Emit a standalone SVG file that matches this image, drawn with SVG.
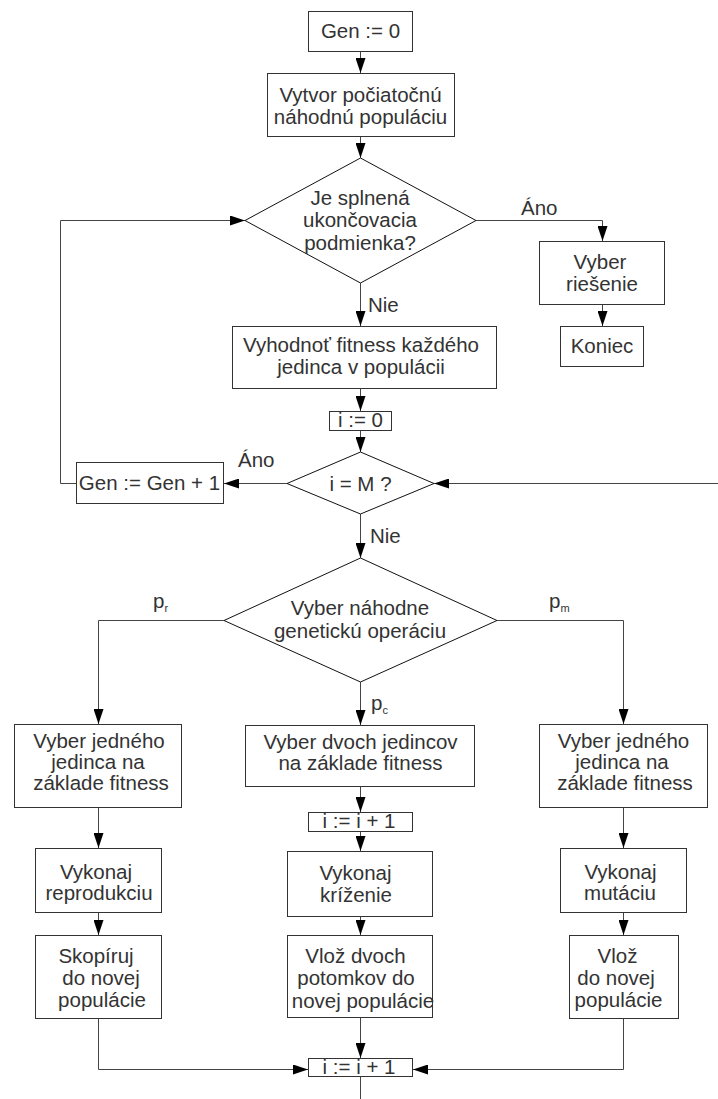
<svg xmlns="http://www.w3.org/2000/svg" width="718" height="1099" viewBox="0 0 718 1099">
  <style>
    .box { fill: #fff; stroke: #333; stroke-width: 1; }
    .dia { fill: #fff; stroke: #111; stroke-width: 1; }
    .t { font-family: "Liberation Sans", Arial, sans-serif; font-size: 20.5px; fill: #333; text-anchor: middle; }
    .lbl { font-family: "Liberation Sans", Arial, sans-serif; font-size: 20.5px; fill: #333; }
    .sub { font-size: 11px; }
    .con { fill: none; stroke: #444; stroke-width: 1; }
    .arr { marker-end: url(#head); }
  </style>
  <defs>
    <marker id="head" viewBox="0 0 15 10" refX="15" refY="5" markerWidth="15" markerHeight="10" markerUnits="userSpaceOnUse" orient="auto">
      <path d="M0,0 L15,5 L0,10 z" fill="#000"/>
    </marker>
  </defs>
  <rect width="718" height="1099" fill="#fff"/>

  <!-- connectors -->
  <g id="connectors">
    <path class="con arr" d="M360.5,52 V73"/>
    <path class="con arr" d="M360.5,137 V158"/>
    <path class="con arr" d="M476,220.5 H602.5 V241"/>
    <path class="con arr" d="M602.5,305 V326"/>
    <path class="con arr" d="M360.5,283 V326"/>
    <path class="con arr" d="M360.5,389 V411"/>
    <path class="con arr" d="M360.5,431 V452"/>
    <path class="con arr" d="M287,483.5 H224"/>
    <path class="con arr" d="M76,483.5 H60.5 V220.5 H245"/>
    <path class="con arr" d="M718,483.5 H434"/>
    <path class="con arr" d="M360.5,514 V558"/>
    <path class="con arr" d="M224,620.5 H98.5 V724"/>
    <path class="con arr" d="M497,620.5 H623.5 V724"/>
    <path class="con arr" d="M360.5,682 V725"/>
    <path class="con arr" d="M98.5,808 V848"/>
    <path class="con arr" d="M98.5,913 V935"/>
    <path class="con arr" d="M98.5,1019 V1069.5 H308"/>
    <path class="con arr" d="M360.5,787 V812"/>
    <path class="con arr" d="M360.5,832 V851"/>
    <path class="con arr" d="M360.5,917 V935"/>
    <path class="con arr" d="M360.5,1018 V1058"/>
    <path class="con" d="M360.5,1077 V1099"/>
    <path class="con arr" d="M623.5,808 V848"/>
    <path class="con arr" d="M623.5,913 V935"/>
    <path class="con arr" d="M623.5,1019 V1069.5 H413"/>
  </g>

  <!-- branch labels -->
  <g id="labels">
    <text class="lbl" x="521" y="215">Áno</text>
    <text class="lbl" x="368" y="312">Nie</text>
    <text class="lbl" x="238" y="467">Áno</text>
    <text class="lbl" x="370" y="543">Nie</text>
    <text class="lbl" x="153" y="608">p<tspan class="sub" dy="4">r</tspan></text>
    <text class="lbl" x="549" y="608">p<tspan class="sub" dy="4">m</tspan></text>
    <text class="lbl" x="371" y="710">p<tspan class="sub" dy="4">c</tspan></text>
  </g>

  <g id="n-gen0">
    <rect class="box" x="308.5" y="11.5" width="104" height="40"/>
    <text class="t" x="360.5" y="38">Gen := 0</text>
  </g>

  <g id="n-init">
    <rect class="box" x="267.5" y="73.5" width="187" height="63"/>
    <text class="t" x="360.5" y="102">Vytvor počiatočnú</text>
    <text class="t" x="360.5" y="124">náhodnú populáciu</text>
  </g>

  <g id="n-stop">
    <polygon class="dia" points="360.5,158 476,220.5 360.5,283 245,220.5"/>
    <text class="t" x="360" y="205">Je splnená</text>
    <text class="t" x="360" y="227">ukončovacia</text>
    <text class="t" x="360" y="250">podmienka?</text>
  </g>

  <g id="n-select-result">
    <rect class="box" x="539.5" y="241.5" width="125" height="63"/>
    <text class="t" x="600" y="269">Vyber</text>
    <text class="t" x="602" y="291">riešenie</text>
  </g>

  <g id="n-end">
    <rect class="box" x="560.5" y="326.5" width="83" height="40"/>
    <text class="t" x="602" y="353">Koniec</text>
  </g>

  <g id="n-evaluate">
    <rect class="box" x="232.5" y="326.5" width="264" height="62"/>
    <text class="t" x="361" y="352">Vyhodnoť fitness každého</text>
    <text class="t" x="361" y="374">jedinca v populácii</text>
  </g>

  <g id="n-i0">
    <rect class="box" x="329.5" y="411.5" width="62" height="19"/>
    <text class="t" x="360.5" y="427">i := 0</text>
  </g>

  <g id="n-iM">
    <polygon class="dia" points="360.5,452 434,483.5 360.5,514 287,483.5"/>
    <text class="t" x="360.5" y="491">i = M ?</text>
  </g>

  <g id="n-gen-inc">
    <rect class="box" x="76.5" y="462.5" width="147" height="41"/>
    <text class="t" x="149.5" y="490">Gen := Gen + 1</text>
  </g>

  <g id="n-op">
    <polygon class="dia" points="360.5,558 497,620.5 360.5,682 224,620.5"/>
    <text class="t" x="360" y="615">Vyber náhodne</text>
    <text class="t" x="360" y="638">genetickú operáciu</text>
  </g>

  <!-- reproduction branch -->
  <g id="n-r-select">
    <rect class="box" x="14.5" y="724.5" width="167" height="83"/>
    <text class="t" x="99" y="748">Vyber jedného</text>
    <text class="t" x="98" y="769">jedinca na</text>
    <text class="t" x="101" y="790">základe fitness</text>
  </g>
  <g id="n-r-do">
    <rect class="box" x="35.5" y="848.5" width="126" height="64"/>
    <text class="t" x="96" y="879">Vykonaj</text>
    <text class="t" x="99" y="900">reprodukciu</text>
  </g>
  <g id="n-r-copy">
    <rect class="box" x="35.5" y="935.5" width="126" height="83"/>
    <text class="t" x="96" y="963">Skopíruj</text>
    <text class="t" x="101" y="985">do novej</text>
    <text class="t" x="102" y="1007">populácie</text>
  </g>

  <!-- crossover branch -->
  <g id="n-c-select">
    <rect class="box" x="245.5" y="725.5" width="229" height="61"/>
    <text class="t" x="360.5" y="749">Vyber dvoch jedincov</text>
    <text class="t" x="360.5" y="770">na základe fitness</text>
  </g>
  <g id="n-c-inc">
    <rect class="box" x="308.5" y="812.5" width="104" height="19"/>
    <text class="t" x="359" y="828">i := i + 1</text>
  </g>
  <g id="n-c-do">
    <rect class="box" x="287.5" y="851.5" width="145" height="65"/>
    <text class="t" x="355.5" y="880">Vykonaj</text>
    <text class="t" x="356" y="902">kríženie</text>
  </g>
  <g id="n-c-insert">
    <rect class="box" x="287.5" y="935.5" width="145" height="82"/>
    <text class="t" x="355.5" y="963">Vlož dvoch</text>
    <text class="t" x="356" y="985">potomkov do</text>
    <text class="t" x="363" y="1008">novej populácie</text>
  </g>
  <g id="n-inc">
    <rect class="box" x="308.5" y="1058.5" width="104" height="18"/>
    <text class="t" x="359" y="1074">i := i + 1</text>
  </g>

  <!-- mutation branch -->
  <g id="n-m-select">
    <rect class="box" x="539.5" y="724.5" width="168" height="83"/>
    <text class="t" x="623.5" y="748">Vyber jedného</text>
    <text class="t" x="622" y="769">jedinca na</text>
    <text class="t" x="625" y="790">základe fitness</text>
  </g>
  <g id="n-m-do">
    <rect class="box" x="560.5" y="848.5" width="126" height="64"/>
    <text class="t" x="620.5" y="879">Vykonaj</text>
    <text class="t" x="620" y="900">mutáciu</text>
  </g>
  <g id="n-m-insert">
    <rect class="box" x="569.5" y="935.5" width="109" height="83"/>
    <text class="t" x="617.5" y="963">Vlož</text>
    <text class="t" x="616" y="985">do novej</text>
    <text class="t" x="618.5" y="1007">populácie</text>
  </g>
</svg>
